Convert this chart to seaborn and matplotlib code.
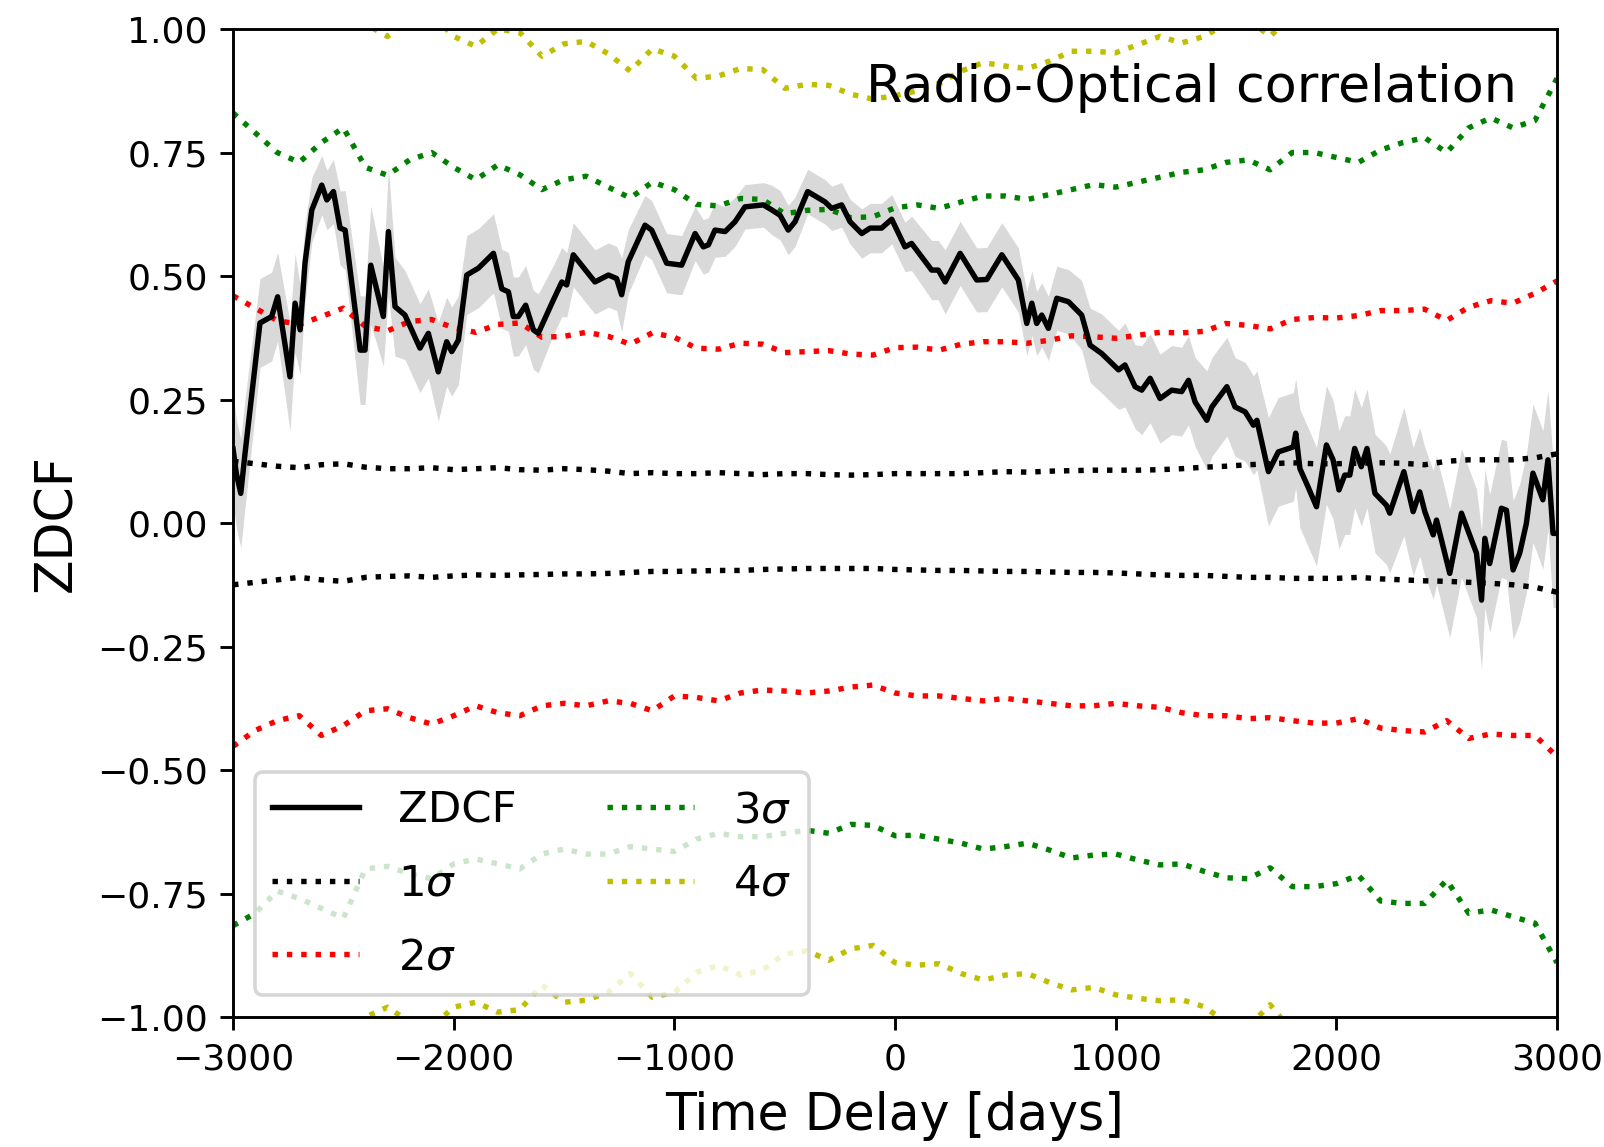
import numpy as np
import matplotlib
matplotlib.use('Agg')
import matplotlib.pyplot as plt
import seaborn as sns

# ZDCF points (time delay in days, correlation, error)
lags = [-3000, -2985, -2965, -2946, -2910, -2878, -2825, -2798, -2742, -2719,
        -2696, -2674, -2643, -2598, -2575, -2545, -2515, -2492, -2424, -2402,
        -2376, -2319, -2296, -2266, -2221, -2153, -2115, -2070, -2032, -2009,
        -1979, -1941, -1888, -1820, -1782, -1752, -1730, -1707, -1674, -1639,
        -1617, -1549, -1510, -1488, -1458, -1360, -1299, -1262, -1239, -1209,
        -1133, -1103, -1035, -967, -906, -869, -846, -816, -770, -725,
        -680, -597, -559, -521, -484, -453, -396, -317, -287, -242,
        -204, -151, -113, -61, -15, 45, 75, 166, 196, 227,
        295, 370, 416, 484, 559, 597, 620, 642, 665, 695,
        733, 786, 846, 884, 937, 1013, 1042, 1088, 1118, 1156,
        1201, 1254, 1299, 1330, 1360, 1413, 1436, 1504, 1541, 1587,
        1624, 1640, 1692, 1737, 1805, 1816, 1835, 1872, 1910, 1955,
        1985, 2012, 2038, 2061, 2083, 2113, 2139, 2175, 2227, 2242,
        2306, 2348, 2378, 2401, 2439, 2454, 2514, 2567, 2635, 2658,
        2673, 2695, 2748, 2771, 2801, 2831, 2861, 2891, 2936, 2959,
        2982, 3000]
zdcf = [0.15, 0.10, 0.06, 0.14, 0.28, 0.405, 0.418, 0.458, 0.296, 0.445,
        0.391, 0.526, 0.634, 0.684, 0.654, 0.671, 0.597, 0.593, 0.350, 0.350,
        0.522, 0.418, 0.590, 0.438, 0.421, 0.354, 0.384, 0.306, 0.367, 0.347,
        0.370, 0.502, 0.516, 0.546, 0.474, 0.468, 0.418, 0.418, 0.441, 0.391,
        0.384, 0.451, 0.488, 0.482, 0.543, 0.488, 0.502, 0.495, 0.462, 0.529,
        0.603, 0.593, 0.526, 0.522, 0.586, 0.559, 0.563, 0.593, 0.590, 0.610,
        0.640, 0.644, 0.634, 0.623, 0.593, 0.610, 0.671, 0.650, 0.637, 0.644,
        0.610, 0.586, 0.597, 0.597, 0.615, 0.559, 0.566, 0.512, 0.512, 0.488,
        0.546, 0.492, 0.493, 0.543, 0.492, 0.404, 0.445, 0.404, 0.421, 0.394,
        0.455, 0.448, 0.421, 0.360, 0.343, 0.310, 0.320, 0.276, 0.269, 0.293,
        0.252, 0.269, 0.266, 0.289, 0.245, 0.208, 0.235, 0.276, 0.235, 0.225,
        0.198, 0.208, 0.104, 0.144, 0.154, 0.182, 0.110, 0.073, 0.033, 0.158,
        0.128, 0.067, 0.097, 0.097, 0.151, 0.114, 0.151, 0.060, 0.036, 0.020,
        0.104, 0.023, 0.063, 0.023, -0.024, 0.006, -0.102, 0.020, -0.061, -0.156,
        -0.031, -0.082, 0.030, 0.026, -0.095, -0.061, -0.001, 0.101, 0.047, 0.128,
        -0.021, -0.021]
zdcf_err = [0.11, 0.11, 0.11, 0.11, 0.10, 0.09, 0.09, 0.09, 0.11, 0.10,
            0.09, 0.08, 0.065, 0.06, 0.06, 0.065, 0.075, 0.08, 0.11, 0.11,
            0.12, 0.10, 0.13, 0.10, 0.09, 0.09, 0.09, 0.10, 0.09, 0.09,
            0.09, 0.08, 0.08, 0.08, 0.08, 0.08, 0.08, 0.08, 0.08, 0.08,
            0.08, 0.07, 0.07, 0.065, 0.065, 0.065, 0.065, 0.065, 0.075, 0.065,
            0.06, 0.06, 0.06, 0.06, 0.055, 0.055, 0.055, 0.055, 0.05, 0.05,
            0.045, 0.045, 0.05, 0.05, 0.05, 0.05, 0.045, 0.045, 0.045, 0.045,
            0.045, 0.05, 0.05, 0.05, 0.05, 0.05, 0.055, 0.06, 0.06, 0.065,
            0.065, 0.065, 0.065, 0.065, 0.065, 0.065, 0.065, 0.065, 0.065, 0.065,
            0.065, 0.065, 0.07, 0.075, 0.08, 0.08, 0.085, 0.085, 0.09, 0.09,
            0.09, 0.09, 0.09, 0.09, 0.09, 0.10, 0.10, 0.10, 0.10, 0.10,
            0.10, 0.10, 0.11, 0.11, 0.11, 0.11, 0.12, 0.12, 0.12, 0.12,
            0.12, 0.12, 0.12, 0.12, 0.12, 0.12, 0.12, 0.12, 0.12, 0.12,
            0.13, 0.13, 0.13, 0.13, 0.13, 0.13, 0.13, 0.13, 0.13, 0.14,
            0.14, 0.14, 0.14, 0.14, 0.14, 0.14, 0.14, 0.14, 0.14, 0.14,
            0.15, 0.15]

# significance levels from simulations
sig_lags = list(range(-3000, 3001, 100))
s1_up = [0.125, 0.12, 0.115, 0.112, 0.118, 0.12, 0.113, 0.11, 0.11, 0.112,
         0.108, 0.11, 0.112, 0.108, 0.107, 0.11, 0.108, 0.105, 0.1, 0.102,
         0.1, 0.1, 0.102, 0.1, 0.098, 0.1, 0.1, 0.098, 0.097, 0.098,
         0.1, 0.1, 0.1, 0.1, 0.102, 0.104, 0.103, 0.105, 0.106, 0.107,
         0.107, 0.107, 0.108, 0.11, 0.113, 0.115, 0.118, 0.12, 0.122, 0.12,
         0.12, 0.121, 0.122, 0.121, 0.118, 0.125, 0.128, 0.128, 0.128, 0.132,
         0.14]
s1_lo = [-0.125, -0.12, -0.115, -0.11, -0.115, -0.118, -0.11, -0.108, -0.107, -0.11,
         -0.107, -0.105, -0.106, -0.105, -0.104, -0.103, -0.103, -0.102, -0.1, -0.098,
         -0.098, -0.097, -0.096, -0.096, -0.094, -0.093, -0.092, -0.092, -0.092, -0.092,
         -0.094, -0.095, -0.096, -0.096, -0.097, -0.098, -0.098, -0.099, -0.1, -0.1,
         -0.101, -0.103, -0.105, -0.106, -0.106, -0.108, -0.11, -0.11, -0.112, -0.112,
         -0.112, -0.11, -0.113, -0.115, -0.117, -0.118, -0.12, -0.122, -0.125, -0.13,
         -0.14]
s2_up = [0.46, 0.435, 0.41, 0.402, 0.418, 0.435, 0.398, 0.389, 0.408, 0.412,
         0.395, 0.386, 0.402, 0.405, 0.376, 0.378, 0.386, 0.378, 0.362, 0.385,
         0.376, 0.354, 0.352, 0.364, 0.362, 0.345, 0.347, 0.349, 0.342, 0.34,
         0.355, 0.356, 0.35, 0.362, 0.367, 0.367, 0.364, 0.37, 0.379, 0.377,
         0.374, 0.38, 0.386, 0.385, 0.388, 0.404, 0.4, 0.393, 0.412, 0.416,
         0.415, 0.42, 0.43, 0.43, 0.433, 0.41, 0.437, 0.45, 0.445, 0.465,
         0.49]
s2_lo = [-0.452, -0.42, -0.40, -0.39, -0.43, -0.41, -0.38, -0.376, -0.394, -0.407,
         -0.39, -0.37, -0.384, -0.39, -0.37, -0.365, -0.37, -0.36, -0.365, -0.38,
         -0.35, -0.353, -0.36, -0.344, -0.338, -0.34, -0.344, -0.34, -0.332, -0.328,
         -0.344, -0.35, -0.35, -0.355, -0.36, -0.355, -0.36, -0.365, -0.37, -0.37,
         -0.365, -0.37, -0.373, -0.384, -0.39, -0.39, -0.396, -0.394, -0.40, -0.405,
         -0.405, -0.396, -0.415, -0.42, -0.423, -0.40, -0.436, -0.427, -0.43, -0.43,
         -0.473]
s3_up = [0.83, 0.79, 0.75, 0.73, 0.77, 0.80, 0.72, 0.704, 0.735, 0.75,
         0.72, 0.695, 0.725, 0.705, 0.675, 0.695, 0.702, 0.68, 0.658, 0.69,
         0.675, 0.645, 0.642, 0.657, 0.655, 0.626, 0.633, 0.635, 0.618, 0.62,
         0.638, 0.644, 0.637, 0.65, 0.662, 0.662, 0.655, 0.665, 0.675, 0.685,
         0.68, 0.69, 0.70, 0.71, 0.715, 0.73, 0.735, 0.715, 0.75, 0.75,
         0.74, 0.73, 0.755, 0.77, 0.78, 0.75, 0.80, 0.82, 0.80, 0.815,
         0.90]
s3_lo = [-0.815, -0.79, -0.745, -0.76, -0.78, -0.80, -0.70, -0.695, -0.71, -0.72,
         -0.69, -0.68, -0.69, -0.70, -0.67, -0.66, -0.67, -0.67, -0.655, -0.66,
         -0.665, -0.64, -0.628, -0.635, -0.635, -0.628, -0.622, -0.628, -0.61, -0.612,
         -0.633, -0.632, -0.64, -0.648, -0.66, -0.655, -0.648, -0.662, -0.678, -0.672,
         -0.67, -0.682, -0.692, -0.69, -0.705, -0.718, -0.72, -0.698, -0.736, -0.736,
         -0.73, -0.713, -0.765, -0.77, -0.77, -0.723, -0.79, -0.783, -0.797, -0.81,
         -0.89]
s4_up = [1.08, 1.06, 1.04, 1.03, 1.05, 1.04, 1.01, 0.985, 1.02, 1.03,
         0.985, 0.965, 1.0, 0.993, 0.945, 0.97, 0.975, 0.95, 0.915, 0.96,
         0.945, 0.9, 0.905, 0.92, 0.918, 0.88, 0.888, 0.886, 0.868, 0.858,
         0.865, 0.875, 0.89, 0.915, 0.932, 0.925, 0.92, 0.935, 0.955, 0.955,
         0.952, 0.968, 0.985, 0.972, 0.985, 1.01, 1.02, 0.985, 1.03, 1.04,
         1.04, 1.03, 1.06, 1.07, 1.08, 1.05, 1.09, 1.10, 1.10, 1.11,
         1.2]
s4_lo = [-1.08, -1.06, -1.04, -1.03, -1.06, -1.05, -1.0, -0.98, -1.01, -1.02,
         -0.98, -0.97, -0.99, -0.985, -0.935, -0.97, -0.966, -0.95, -0.912, -0.96,
         -0.95, -0.91, -0.895, -0.915, -0.905, -0.872, -0.866, -0.885, -0.862, -0.855,
         -0.89, -0.895, -0.892, -0.912, -0.925, -0.915, -0.912, -0.93, -0.945, -0.94,
         -0.955, -0.962, -0.967, -0.965, -0.979, -1.01, -1.02, -0.975, -1.03, -1.04,
         -1.04, -1.03, -1.06, -1.07, -1.08, -1.05, -1.09, -1.10, -1.10, -1.11,
         -1.2]

fig = plt.figure(figsize=(1604 / 260, 1147 / 260), dpi=260)
fig.subplots_adjust(left=0.1453, right=0.9707, top=0.9747, bottom=0.1133)
ax = fig.add_subplot(111)

z = np.array(zdcf)
e = np.array(zdcf_err)
ax.fill_between(lags, z - e, z + e, color='0.85', linewidth=0, zorder=1)
sns.lineplot(x=lags, y=zdcf, color='k', lw=1.5, label='ZDCF', ax=ax, zorder=4)

#sigma levels, upper and lower
levels = [(s1_up, s1_lo, 'k', r'$1\sigma$'),
          (s2_up, s2_lo, 'r', r'$2\sigma$'),
          (s3_up, s3_lo, 'g', r'$3\sigma$'),
          (s4_up, s4_lo, 'y', r'$4\sigma$')]
for up, lo, col, lab in levels:
    sns.lineplot(x=sig_lags, y=up, color=col, linestyle=':', lw=1.5, label=lab, ax=ax, zorder=2)
    sns.lineplot(x=sig_lags, y=lo, color=col, linestyle=':', lw=1.5, ax=ax, zorder=2)

ax.set_xlim(-3000, 3000)
ax.set_ylim(-1, 1)
ax.set_yticks([-1, -0.75, -0.5, -0.25, 0, 0.25, 0.5, 0.75, 1])
ax.set_xlabel('Time Delay [days]', fontsize=14)
ax.set_ylabel('ZDCF', fontsize=14)
ax.text(0.97, 0.94, 'Radio-Optical correlation', transform=ax.transAxes,
        ha='right', va='center', fontsize=14.5)
ax.legend(loc='lower left', ncol=2, fontsize=12, labelspacing=0.72,
          columnspacing=2.1, handletextpad=0.9)

fig.savefig('out.png', dpi=260)
